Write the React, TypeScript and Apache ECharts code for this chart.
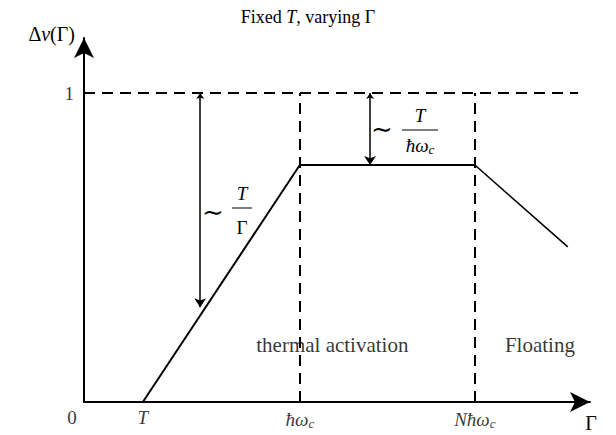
import { useEffect, useRef } from "react";
import * as echarts from "echarts";

// ---- data (arbitrary units) ----
const tickLabels = ["0", "{i|T}", "{i|ħω}{s|c}", "{i|Nħω}{s|c}"];
const tickValues = [0, 1.14, 4.18, 7.57];
const curveGamma = [1.14, 4.18, 7.57];
const curveNu = [0, 0.767, 0.767];
const tailGamma = [7.57, 9.37];
const tailNu = [0.767, 0.502];
const unitLevel = 1;
const dashEndGamma = 9.57;
const arrowGamma = [2.25, 5.54];
const arrowTop = [1, 1];
const arrowBottom = [0.307, 0.767];
const regionNames = ["thermal activation", "Floating"];
const regionGamma = [4.81, 8.83];
const regionNu = [0.185, 0.185];

const SERIF = "'Liberation Serif', 'DejaVu Serif', serif";

const rich = {
  i: { fontFamily: SERIF, fontStyle: "italic" as const, fontWeight: "normal" as const, fontSize: 19, color: "#000" },
  r: { fontFamily: SERIF, fontWeight: "normal" as const, fontSize: 19, color: "#000" },
  s: { fontFamily: SERIF, fontStyle: "italic" as const, fontWeight: "normal" as const, fontSize: 13, color: "#000", padding: [9, 0, 0, 0] },
};

export default function App() {
  const ref = useRef<HTMLDivElement>(null);
  useEffect(() => {
    if (!ref.current) return;
    const chart = echarts.init(ref.current, null, { renderer: "svg" });

    const frac = (cx: number, numY: number, barY: number, denY: number, barHalf: number, tildeX: number, tildeY: number, num: string, den: string) => [
      { type: "text", x: tildeX, y: tildeY, style: { text: "∼", font: "26px 'DejaVu Serif', serif", fill: "#000", align: "center", verticalAlign: "middle" } },
      { type: "text", x: cx, y: numY, style: { text: num, rich, fill: "#000", align: "center", verticalAlign: "middle" } },
      { type: "line", shape: { x1: cx - barHalf, y1: barY, x2: cx + barHalf, y2: barY }, style: { stroke: "#000", lineWidth: 1 } },
      { type: "text", x: cx, y: denY, style: { text: den, rich, fill: "#000", align: "center", verticalAlign: "middle" } },
    ];

    chart.setOption({
      animation: false,
      backgroundColor: "#fff",
      title: {
        text: "{r|Fixed }{i|T}{r|, varying Γ}",
        left: "center",
        top: 3,
        textStyle: {
          fontWeight: "normal",
          fontSize: 18,
          rich: {
            r: { fontFamily: SERIF, fontWeight: "normal", fontSize: 18, color: "#000" },
            i: { fontFamily: SERIF, fontStyle: "italic", fontWeight: "normal", fontSize: 18, color: "#000" },
          },
        },
      },
      grid: { left: 84, right: 26, top: 38, bottom: 33 },
      xAxis: {
        type: "value",
        min: 0,
        max: 9.8,
        axisLine: { onZero: true, lineStyle: { color: "#000", width: 2 }, symbol: ["none", "arrow"], symbolSize: [15, 20] },
        axisTick: { show: false },
        axisLabel: { show: false },
        splitLine: { show: false },
      },
      yAxis: {
        type: "value",
        min: 0,
        max: 1.178,
        axisLine: { show: true, onZero: false, lineStyle: { color: "#000", width: 2 }, symbol: ["none", "arrow"], symbolSize: [15, 20] },
        axisTick: { show: false },
        axisLabel: { show: false },
        splitLine: { show: false },
      },
      graphic: [
        { type: "text", x: 75, y: 34, style: { text: "Δ{i|ν}(Γ)", rich: { i: { ...rich.i, fontSize: 20 } }, font: `20px ${SERIF}`, fill: "#000", align: "right", verticalAlign: "middle" } },
        { type: "text", x: 591, y: 423, style: { text: "Γ", font: `20px ${SERIF}`, fill: "#000", align: "center", verticalAlign: "middle" } },
        ...frac(242, 193, 208, 227, 10, 213, 212, "{i|T}", "{r|Γ}"),
        ...frac(420, 115, 130, 145, 18, 382, 129, "{i|T}", "{i|ħω}{s|c}"),
      ],
      series: [
        {
          type: "lines",
          coordinateSystem: "cartesian2d",
          silent: true,
          lineStyle: { color: "#000", width: 2, type: [11, 7], opacity: 1 },
          data: [
            { coords: [[0, unitLevel], [dashEndGamma, unitLevel]] },
            { coords: [[tickValues[2], 0], [tickValues[2], unitLevel]] },
            { coords: [[tickValues[3], 0], [tickValues[3], unitLevel]] },
          ],
        },
        {
          type: "line",
          data: curveGamma.map((g, i) => [g, curveNu[i]]),
          symbol: "none",
          lineStyle: { color: "#000", width: 2 },
        },
        {
          type: "line",
          data: tailGamma.map((g, i) => [g, tailNu[i]]),
          symbol: "none",
          lineStyle: { color: "#000", width: 1.6 },
        },
        {
          type: "lines",
          coordinateSystem: "cartesian2d",
          silent: true,
          symbol: ["arrow", "arrow"],
          symbolSize: [6, 9],
          lineStyle: { color: "#000", width: 1.5, opacity: 1 },
          data: arrowGamma.map((g, i) => ({ coords: [[g, arrowTop[i]], [g, arrowBottom[i]]] })),
        },
        {
          type: "scatter",
          symbolSize: 0,
          silent: true,
          data: tickValues.map((v, i) => ({
            value: [v, 0],
            label: {
              show: true,
              position: "bottom",
              distance: 6,
              offset: i === 0 ? [-12, 0] : [0, 0],
              formatter: tickLabels[i],
              rich,
              fontFamily: SERIF,
              fontSize: 19,
              color: "#000",
            },
          })),
        },
        {
          type: "scatter",
          symbolSize: 0,
          silent: true,
          data: [{
            value: [0, unitLevel],
            label: { show: true, position: "left", distance: 10, formatter: "1", fontFamily: SERIF, fontSize: 19, color: "#000" },
          }],
        },
        {
          type: "scatter",
          symbolSize: 0,
          silent: true,
          data: regionNames.map((n, i) => ({
            value: [regionGamma[i], regionNu[i]],
            label: { show: true, position: "inside", formatter: n, fontFamily: SERIF, fontSize: 21, color: "#000" },
          })),
        },
      ],
    });
    return () => chart.dispose();
  }, []);
  return <div ref={ref} style={{ position: "fixed", left: 0, top: 0, width: 616, height: 435 }} />;
}
